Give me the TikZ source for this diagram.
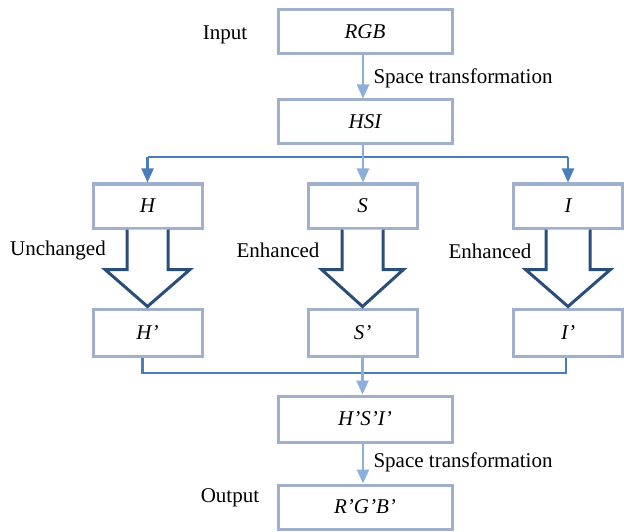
\documentclass[tikz,border=0pt]{standalone}
\usepackage{fontspec}
\setmainfont{Liberation Serif}
\usetikzlibrary{arrows.meta,calc}
\definecolor{boxc}{RGB}{160,176,204}
\definecolor{lightarr}{RGB}{140,174,220}
\definecolor{darkline}{RGB}{74,126,187}
\definecolor{blockc}{RGB}{42,78,122}
\begin{document}
\begin{tikzpicture}[x=1pt,y=-1pt,
  every node/.style={font=\fontsize{21}{25}\selectfont},
  box/.style={draw=boxc,line width=3pt,minimum height=44pt,inner sep=0pt,font=\fontsize{21}{25}\selectfont\itshape},
  wide/.style={box,minimum width=174pt},
  narrow/.style={box,minimum width=109pt},
  lightline/.style={draw=lightarr,line width=2.5pt},
  darkarrow/.style={draw=darkline,line width=2.2pt},
  tipl/.style={-{Triangle[length=14pt,width=12pt,fill=lightarr]}},
  tipd/.style={-{Triangle[length=14pt,width=12pt,fill=darkline]}},
  blockarrow/.style={draw=blockc,line width=3pt,fill=white,line join=miter}]
\useasboundingbox (0,0) rectangle (624,532);
% boxes
\node[wide] (RGB) at (365,32) {RGB};
\node[wide] (HSI) at (365,122) {HSI};
\node[narrow] (H) at (147.5,206) {H};
\node[narrow] (S) at (362.5,206) {S};
\node[narrow] (I) at (568,206) {I};
\node[narrow,minimum height=47pt] (Hp) at (147.5,332.5) {H’};
\node[narrow,minimum height=47pt] (Sp) at (362.5,332.5) {S’};
\node[narrow,minimum height=47pt] (Ip) at (568,332.5) {I’};
\node[wide,minimum height=46pt] (HSIp) at (365,419) {H’S’I’};
\node[wide] (RGBp) at (365,507) {R’G’B’};
% labels
\node (in) at (225,35) {Input};
\node[anchor=west] (st1) at (370,78) {Space transformation};
\node (un) at (58,250) {Unchanged};
\node (en1) at (278,250) {Enhanced};
\node (en2) at (490,251) {Enhanced};
\node[anchor=west] (st2) at (370,462) {Space transformation};
\node (out) at (230,498) {Output};
% connectors
\draw[lightline,tipl] ([xshift=-2pt]RGB.south) -- ([xshift=-2pt]HSI.north);
\coordinate (hl) at (H.north |- 0,157);
\coordinate (hr) at (I.north |- 0,157);
\draw[darkarrow,tipd] (hl) -- (H.north);
\draw[darkarrow,tipd] (hr) -- (I.north);
\draw[darkarrow] (hl) -- (hr);
\draw[lightline,tipl] ([xshift=-2pt]HSI.south) -- ([xshift=-2pt]HSI.south |- S.north);
% block arrows
\foreach \n/\sw/\hw in {H/20.5/42.5, S/20.5/41, I/22/42.5}{
  \draw[blockarrow] ([xshift=-\sw pt]\n.south) -- ++(0,40) -- ++(-\hw+\sw,0)
    -- ($(\n.south)+(0,77)$) -- ++(\hw,-37) -- ++(-\hw+\sw,0) -- ([xshift=\sw pt]\n.south);
}
% bottom merge
\coordinate (bl) at ([xshift=-5pt]Hp.south |- 0,373);
\coordinate (br) at ([xshift=-2pt]Ip.south |- 0,373);
\draw[darkarrow] ([xshift=-5pt]Hp.south) -- (bl) -- (br) -- ([xshift=-2pt]Ip.south);
\draw[lightline,tipl] (Sp.south) -- (Sp.south |- HSIp.north);
\draw[lightline,tipl] ([xshift=-2pt]HSIp.south) -- ([xshift=-2pt]HSIp.south |- RGBp.north);
\end{tikzpicture}
\end{document}
